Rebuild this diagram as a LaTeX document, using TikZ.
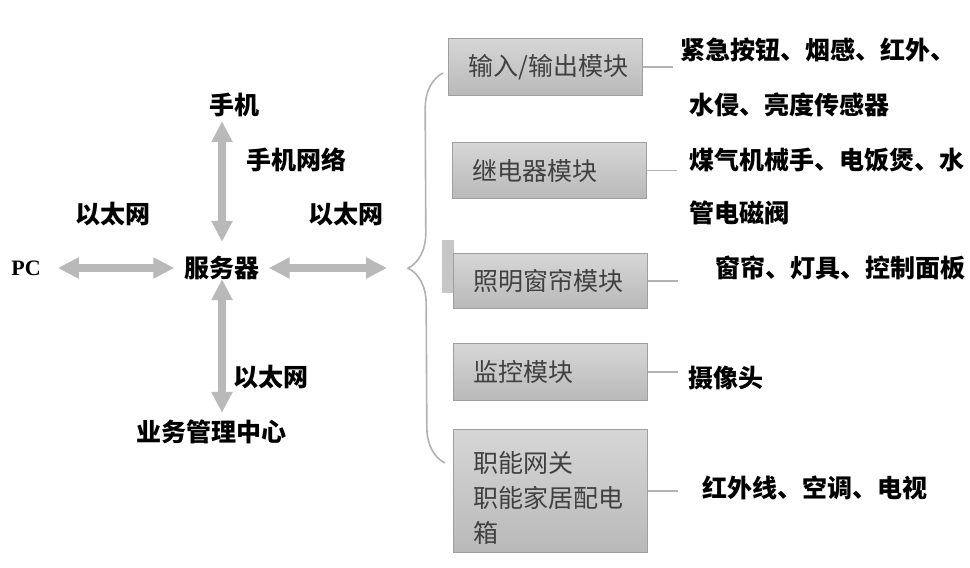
\documentclass[tikz,border=0pt]{standalone}
\usepackage{fontspec}
\setmainfont{Liberation Serif}
\newfontfamily\cjk{Noto Sans CJK SC}
\usetikzlibrary{arrows.meta,decorations.pathreplacing}

\begin{document}
\begin{tikzpicture}[x=1pt,y=-1pt,
    lbl/.style={font=\cjk\bfseries\fontsize{25}{30}\selectfont, inner sep=0pt},
    modbox/.style={draw=gray!75, line width=1.2pt, top color=gray!32, bottom color=gray!55,
        anchor=north west, minimum width=194pt, text width=154pt, inner xsep=20pt,
        align=left, text=black!75, font=\cjk\fontsize{25}{35}\selectfont},
    netarrow/.style={gray!55, line width=8pt,
        {Triangle[length=21pt,width=20pt]}-{Triangle[length=21pt,width=20pt]}},
    stub/.style={gray!60, line width=1.6pt}]

\useasboundingbox[fill=white] (0,0) rectangle (970,568);

% Left side: server and its links
\node[lbl] (phone) at (234,105) {手机};
\node[lbl] (server) at (222,268) {服务器};
\node[lbl] (pc) at (26,268) {\rmfamily\fontsize{22}{26}\selectfont PC};
\node[lbl] (center) at (211,432) {业务管理中心};

\node[lbl] (mobnet) at (296,160) {手机网络};
\node[lbl] (ethl) at (113,214) {以太网};
\node[lbl] (ethr) at (346,214) {以太网};
\node[lbl] (ethd) at (271,377) {以太网};

\coordinate (tip) at (407,268);

\draw[netarrow, shorten <=14pt, shorten >=4pt] (server.north) -- (server.north |- phone.south);
\draw[netarrow, shorten <=-1pt, shorten >=7pt] (server.south) -- (server.south |- center.north);
\draw[netarrow, shorten <=10pt, shorten >=17pt] (server.west) -- (pc.east);
\draw[netarrow, shorten <=9pt, shorten >=20pt] (server.east) -- (tip);

% Brace
\draw[gray!60, line width=1.6pt, decorate, decoration={brace, amplitude=36pt}]
    (445,463) -- (443,73);
\fill[gray!45] (442,240) rectangle (454,293);

% Modules
\node[modbox, minimum height=57pt] (m1) at (448,38) {输入/输出模块};
\node[modbox, minimum height=56pt] (m2) at (452,142) {继电器模块};
\node[modbox, minimum height=55pt] (m3) at (453,253) {照明窗帘模块};
\node[modbox, minimum height=57pt] (m4) at (453,343) {监控模块};
\node[modbox, minimum height=123pt] (m5) at (453,429) {\rule{0pt}{34pt}职能网关\\职能家居配电\\箱};

\foreach \m in {1,...,5}
    \draw[stub] (m\m.east) -- ++(30,0);

% Devices
\node[lbl, anchor=west] (d1a) at (680,50) {紧急按钮、烟感、红外、};
\node[lbl, anchor=west] (d1b) at (689,105) {水侵、亮度传感器};
\node[lbl, anchor=west] (d2a) at (689,160) {煤气机械手、电饭煲、水};
\node[lbl, anchor=west] (d2b) at (689,213) {管电磁阀};
\node[lbl, anchor=west] (d3) at (715,268) {窗帘、灯具、控制面板};
\node[lbl, anchor=west] (d4) at (688,378) {摄像头};
\node[lbl, anchor=west] (d5) at (702,488) {红外线、空调、电视};

\end{tikzpicture}
\end{document}
